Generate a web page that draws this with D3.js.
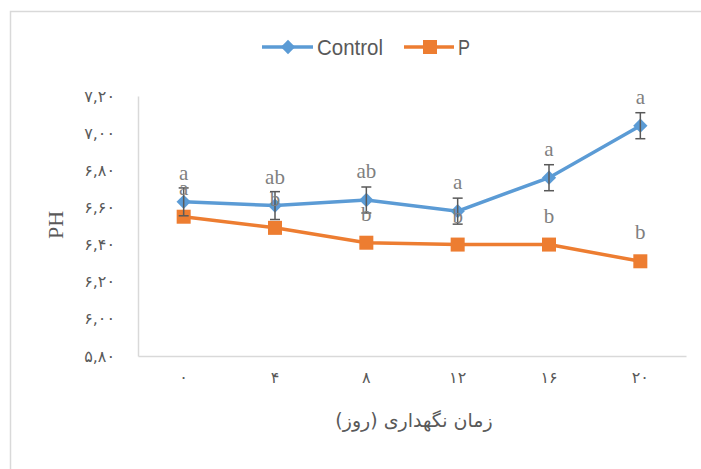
<!DOCTYPE html>
<html><head><meta charset="utf-8">
<script src="https://cdn.jsdelivr.net/npm/d3@7"></script>
<style>body{margin:0;background:#fff}</style>
</head><body>
<script>
const categories = ["۰","۴","۸","۱۲","۱۶","۲۰"];
const controlValues = [6.63, 6.61, 6.64, 6.58, 6.76, 7.04];
const controlErrors = [0.075, 0.075, 0.07, 0.07, 0.07, 0.07];
const controlLabels = ["a","ab","ab","a","a","a"];
const pValues = [6.55, 6.49, 6.41, 6.40, 6.40, 6.31];
const pLabels = ["a","b","b","b","b","b"];
const yTicks = [5.8, 6.0, 6.2, 6.4, 6.6, 6.8, 7.0, 7.2];
const yTickLabels = ["۵,۸۰","۶,۰۰","۶,۲۰","۶,۴۰","۶,۶۰","۶,۸۰","۷,۰۰","۷,۲۰"];
const seriesNames = ["Control","P"];
const xTitle = "زمان نگهداری (روز)";
const yTitle = "PH";

(function () {
const W = 701, H = 469;
const pL = 138, pR = 686, pT = 96, pB = 356;
const blue = "#5b9bd5", orange = "#ed7d31";

const svg = d3.select("body").append("svg").attr("width", W).attr("height", H);
svg.append("rect").attr("x", 10.5).attr("y", 11.5).attr("width", 720).attr("height", 500)
  .attr("fill", "#fff").attr("stroke", "#d9d9d9").attr("stroke-width", 1.5);

const x = d3.scaleBand().domain(categories).range([pL, pR]).padding(0);
const y = d3.scaleLinear().domain([5.8, 7.2]).range([pB, pT]);
const cx = d => x(d) + x.bandwidth() / 2;

const yAxis = svg.append("g").attr("transform", `translate(${pL},0)`)
  .call(d3.axisLeft(y).tickValues(yTicks).tickSize(0).tickPadding(23)
    .tickFormat((d, i) => yTickLabels[i]));
yAxis.select(".domain").attr("stroke", "#d9d9d9").attr("stroke-width", 1.5);
yAxis.selectAll("text").attr("font-family", "DejaVu Sans").attr("font-size", 16)
  .attr("letter-spacing", 3).attr("fill", "#595959").attr("direction", "ltr");

const xAxis = svg.append("g").attr("transform", `translate(0,${pB})`)
  .call(d3.axisBottom(x).tickSize(0).tickPadding(16));
xAxis.select(".domain").attr("stroke", "#d9d9d9").attr("stroke-width", 1.5);
xAxis.selectAll("text").attr("font-family", "DejaVu Sans").attr("font-size", 16)
  .attr("letter-spacing", 4).attr("fill", "#595959");

svg.append("text").attr("x", 414).attr("y", 427).attr("text-anchor", "middle")
  .attr("font-family", "DejaVu Sans").attr("font-size", 19).attr("fill", "#595959")
  .attr("direction", "rtl").text(xTitle);
svg.append("text").attr("transform", "translate(63,225) rotate(-90)").attr("text-anchor", "middle")
  .attr("font-family", "Liberation Serif").attr("font-size", 22).attr("fill", "#595959")
  .text(yTitle);

const line = d3.line().x((d, i) => cx(categories[i])).y(d => y(d));

svg.append("path").datum(pValues).attr("d", line).attr("fill", "none")
  .attr("stroke", orange).attr("stroke-width", 3.5);
svg.selectAll(".psq").data(pValues).join("rect")
  .attr("x", (d, i) => cx(categories[i]) - 7).attr("y", d => y(d) - 7)
  .attr("width", 14).attr("height", 14).attr("fill", orange);

svg.append("path").datum(controlValues).attr("d", line).attr("fill", "none")
  .attr("stroke", blue).attr("stroke-width", 3.5);
const sym = d3.symbol().type(d3.symbolDiamond2).size(130);
svg.selectAll(".cd").data(controlValues).join("path")
  .attr("transform", (d, i) => `translate(${cx(categories[i])},${y(d)})`)
  .attr("d", sym).attr("fill", blue);

const eb = svg.append("g").attr("stroke", "#595959").attr("stroke-width", 1.5);
controlValues.forEach((v, i) => {
  const px = cx(categories[i]);
  const y1 = y(v + controlErrors[i]), y2 = y(v - controlErrors[i]);
  eb.append("line").attr("x1", px).attr("x2", px).attr("y1", y1).attr("y2", y2);
  eb.append("line").attr("x1", px - 5).attr("x2", px + 5).attr("y1", y1).attr("y2", y1);
  eb.append("line").attr("x1", px - 5).attr("x2", px + 5).attr("y1", y2).attr("y2", y2);
});

const lab = svg.append("g").attr("font-family", "Liberation Serif").attr("font-size", 21)
  .attr("fill", "#7f7f7f").attr("text-anchor", "middle");
controlValues.forEach((v, i) => {
  lab.append("text").attr("x", cx(categories[i])).attr("y", y(v) - 22).text(controlLabels[i]);
});
pValues.forEach((v, i) => {
  lab.append("text").attr("x", cx(categories[i])).attr("y", y(v) - 22).text(pLabels[i]);
});

const lg = svg.append("g");
const lf = "'Liberation Sans Narrow', 'Liberation Sans', Arial, sans-serif";
lg.append("line").attr("x1", 262).attr("x2", 313).attr("y1", 47).attr("y2", 47)
  .attr("stroke", blue).attr("stroke-width", 3.5);
lg.append("path").attr("transform", "translate(288,47)").attr("d", sym).attr("fill", blue);
lg.append("text").attr("x", 317).attr("y", 55).attr("font-family", lf)
  .attr("font-size", 22).attr("fill", "#595959")
  .attr("textLength", 66).attr("lengthAdjust", "spacingAndGlyphs").text(seriesNames[0]);
lg.append("line").attr("x1", 404).attr("x2", 454).attr("y1", 47).attr("y2", 47)
  .attr("stroke", orange).attr("stroke-width", 3.5);
lg.append("rect").attr("x", 423).attr("y", 40).attr("width", 14).attr("height", 14).attr("fill", orange);
lg.append("text").attr("x", 458).attr("y", 55).attr("font-family", lf)
  .attr("font-size", 22).attr("fill", "#595959")
  .attr("textLength", 12).attr("lengthAdjust", "spacingAndGlyphs").text(seriesNames[1]);
})();
</script>
</body></html>
